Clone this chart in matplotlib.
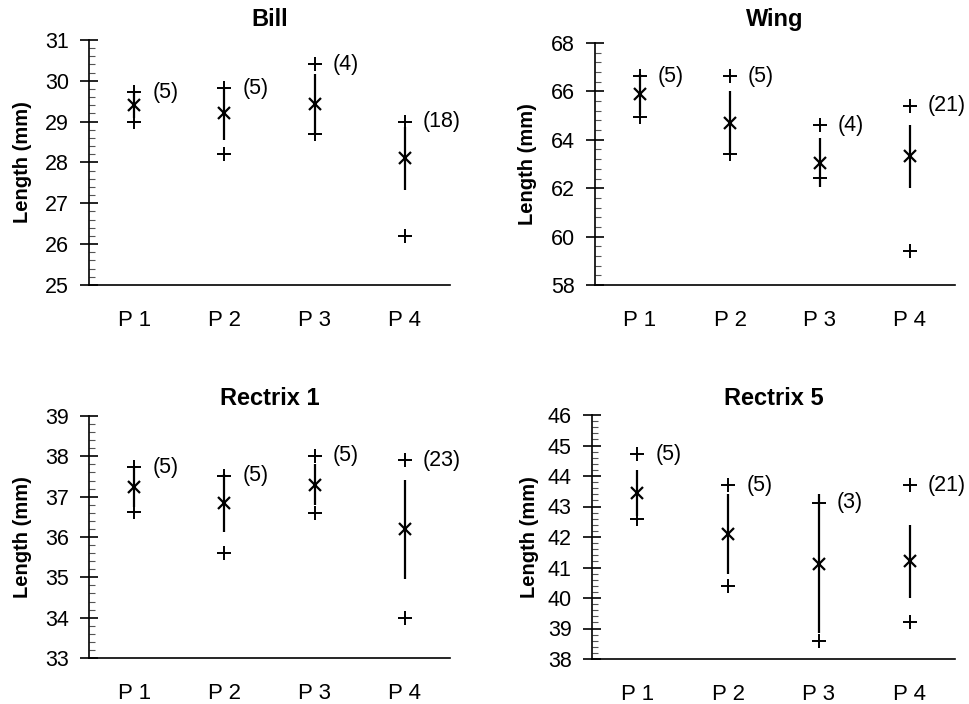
import numpy as np
import matplotlib.pyplot as plt
from matplotlib.ticker import MultipleLocator

plt.rcParams['font.family'] = ['Liberation Sans', 'DejaVu Sans']

groups = ['P 1', 'P 2', 'P 3', 'P 4']

# Bill
bill_mean = [29.4, 29.2, 29.44, 28.1]
bill_sd = [0.3, 0.65, 0.73, 0.77]
bill_max = [29.72, 29.82, 30.41, 29.0]
bill_min = [29.0, 28.21, 28.7, 26.21]
bill_n = [5, 5, 4, 18]

# Wing
wing_mean = [65.88, 64.7, 63.05, 63.32]
wing_sd = [0.85, 1.3, 1.02, 1.3]
wing_max = [66.62, 66.62, 64.6, 65.41]
wing_min = [64.95, 63.42, 62.43, 59.4]
wing_n = [5, 5, 4, 21]

# Rectrix 1
r1_mean = [37.23, 36.84, 37.3, 36.19]
r1_sd = [0.48, 0.72, 0.5, 1.22]
r1_max = [37.73, 37.52, 38.02, 37.9]
r1_min = [36.61, 35.6, 36.6, 34.0]
r1_n = [5, 5, 5, 23]

# Rectrix 5
r5_mean = [43.44, 42.1, 41.12, 41.2]
r5_sd = [0.76, 1.3, 2.28, 1.2]
r5_max = [44.71, 43.7, 43.13, 43.7]
r5_min = [42.58, 40.39, 38.6, 39.2]
r5_n = [5, 5, 3, 21]

panels = [
    ('Bill', bill_mean, bill_sd, bill_max, bill_min, bill_n, (25, 31), 1, 0.2,
     [89, 40, 450, 285], -0.158, 10),
    ('Wing', wing_mean, wing_sd, wing_max, wing_min, wing_n, (58, 68), 2, 0.4,
     [595, 43, 955, 285], -0.161, 12),
    ('Rectrix 1', r1_mean, r1_sd, r1_max, r1_min, r1_n, (33, 39), 1, 0.2,
     [89, 416, 450, 658], -0.158, 8),
    ('Rectrix 5', r5_mean, r5_sd, r5_max, r5_min, r5_n, (38, 46), 1, 0.2,
     [592, 415, 955, 659], -0.146, 7),
]

W, H = 970, 704
fig = plt.figure(figsize=(W / 100, H / 100), dpi=100)

x = np.arange(1, 5)
for title, mean, sd, mx, mn, n, ylim, major, minor, box, ylab_x, tpad in panels:
    l, t, r, b = box
    ax = fig.add_axes([l / W, 1 - b / H, (r - l) / W, (b - t) / H])
    mean = np.array(mean)
    sd = np.array(sd)
    ax.vlines(x, mean - sd, mean + sd, color='black', lw=1.6)
    ax.plot(x, mean, 'x', color='black', ms=9, mew=1.6)
    ax.plot(x, mx, '+', color='black', ms=10, mew=1.4)
    ax.plot(x, mn, '+', color='black', ms=10, mew=1.4)
    for xi, yi, ni in zip(x, mx, n):
        ax.text(xi + 0.2, yi, '(%d)' % ni, fontsize=15.5, va='center', ha='left')

    ax.set_xlim(0.5, 4.5)
    ax.set_ylim(*ylim)
    ax.set_xticks(x)
    ax.set_xticklabels(groups, fontsize=16)
    ax.yaxis.set_major_locator(MultipleLocator(major))
    ax.yaxis.set_minor_locator(MultipleLocator(minor))
    ax.tick_params(axis='x', length=0, pad=18)
    ax.tick_params(axis='y', which='major', direction='inout', length=13,
                   width=1.2, labelsize=15.5, pad=8)
    ax.tick_params(axis='y', which='minor', direction='in', length=4, width=0.8,
                   color='#555555')
    for s in ['top', 'right']:
        ax.spines[s].set_visible(False)
    ax.spines['left'].set_linewidth(1.2)
    ax.spines['bottom'].set_linewidth(1.2)
    ax.set_title(title, fontsize=17, fontweight='bold', pad=tpad)
    ax.set_ylabel('Length (mm)', fontsize=14.5, fontweight='bold')
    ax.yaxis.set_label_coords(ylab_x, 0.5)

fig.savefig('out.png', dpi=100)
